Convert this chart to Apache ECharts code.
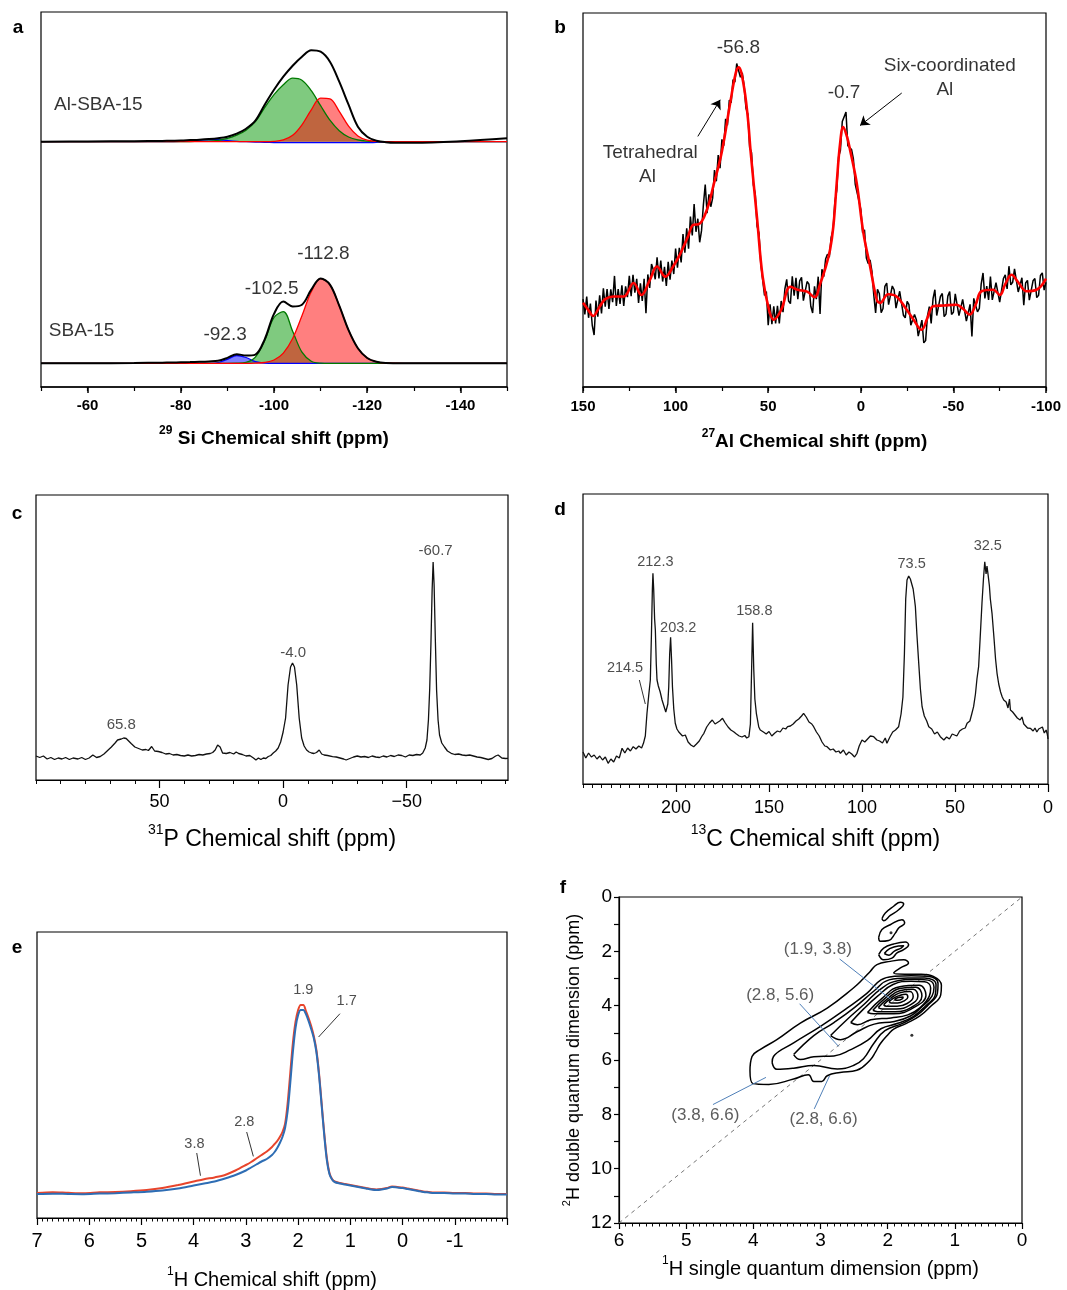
<!DOCTYPE html>
<html>
<head>
<meta charset="utf-8">
<title>NMR spectra a-f</title>
<script src="https://cdn.jsdelivr.net/npm/echarts@6.0.0/dist/echarts.min.js"></script>
<style>
  html, body { margin: 0; padding: 0; background: #fff; }
  #fig { width: 1067px; height: 1290px; }
</style>
</head>
<body>
<div id="fig"></div>
<script>
// ---------- a: 29Si, intensities in px above each baseline ----------
const siX = [-50,-60,-70,-76,-78,-80,-82,-84,-86,-88,-90,-92,-94,-96,-98,-100,-102,-104,-106,-108,-110,-112,-114,-116,-118,-120,-122,-124,-126,-130,-140,-150];
const alBlack = [0,0.2,0.5,0.8,1.0,1.2,1.6,2.0,2.6,3.5,5.0,8,13,21,37,52,65,76,85,91.5,90,80,60,37,15,5,1,-0.5,-1,-1,0.5,3.4];
const alGreen = [0,0,0,0,0,0.1,0.2,0.3,0.5,1.4,3.3,6.5,11.5,20,34,47,57,63.5,61.5,51,36,21.5,11,4.7,1.8,0.6,0.2,0,0,0,0,0];
const alRed   = [0,0,0,0,0,0,0,0,0,0,0,0,0,0,0,0.3,1.8,6.4,16.9,31.9,43.5,42.8,30.4,15.6,5.7,1.5,0.3,0,0,0,0,0];
const alBlue  = [0,0,0,0,0.1,0.3,0.8,1.5,2.2,2.2,1.2,0.4,0,-0.3,-0.6,-0.8,-1,-1,-1,-1,-1,-1,-1,-1,-1,-1,-0.6,-0.3,0,0,0,0];
const sbaBlack = [0,0,0.3,0.6,0.8,1.0,1.2,1.5,1.9,2.5,5.4,9.1,7.7,8.7,24.0,49.4,61.8,56.9,58.6,73.6,84.8,78.7,57.6,33.1,15.0,5.3,1.5,0.3,0.1,0,0,0];
const sbaGreen = [0,0,0,0,0,0,0,0,0,0,0,0.1,0.9,6.1,22.5,45.8,51.6,32.1,11.1,2.1,0.2,0,0,0,0,0,0,0,0,0,0,0];
const sbaRed   = [0,0,0,0,0,0,0,0,0,0,0,0,0,0.2,0.8,3.3,10.2,24.8,47.5,71.5,84.6,78.7,57.6,33.1,15.0,5.3,1.5,0.3,0.1,0,0,0];
const sbaBlue  = [0,0,0,0,0,0,0,0,0,0.7,3.9,7.8,5.8,1.6,0.2,0,0,0,0,0,0,0,0,0,0,0,0,0,0,0,0,0];
const aTopText = ['Al-SBA-15'], aTopX = [-62.3], aTopY = [36.7];
const aBotText = ['SBA-15','-92.3','-102.5','-112.8'];
const aBotX = [-58.7,-89.5,-99.5,-110.6];
const aBotY = [32.3,29,75,110];

// ---------- b: 27Al, raw (1 ppm steps from 150) and fit ----------
const alRawStart = 150, alRawStep = -1;
const alRaw = [
  23.5,19.4,24.2,18.5,22.3,16.5,13.9,23.1,18.8,24.5,
  19.7,26.4,21.5,26.2,20.9,26.1,22.7,29.7,21.7,26.2,
  22.2,27.2,21.7,26.9,24,29.7,24.3,30,25.2,28.9,
  22.5,27.7,23,28.9,19.7,30.1,26.5,32.9,31.3,28.8,
  34.7,29,33.8,28.2,32.1,27,33.5,28.7,33.8,30.2,
  37,31.9,37.2,33.3,40.9,35.9,42.4,37,45.6,40.5,
  48.9,41.5,45,38.7,41.8,48.7,54.1,46.5,51.5,48.2,
  50.5,58,55,62,58.5,66.2,64.5,71.7,70,76.7,
  76,82.2,81.5,86.5,87,82.8,84,80.5,74.5,73,
  64,62.7,54,51.7,43,41.2,33,32.5,24.5,25.5,
  16.5,22.1,16.8,21.6,17,21.7,17,23,20,26.2,
  28.8,23,22.3,29.6,24.4,29.2,23.5,28.4,29.3,23.1,
  22.9,28.2,27.5,21.6,19.8,26.9,23.5,29.5,19.5,31.5,
  29.5,34.2,35.5,34.7,40,42,49.5,52.5,61.5,63.3,
  71,70.8,73.5,64.5,64.5,63.5,61,54.2,52,51.7,
  47.5,41.2,42,34.5,33,34,31,24.6,19.8,26.1,
  25,19.9,21,26.9,27.8,22,22,27,26,21.1,
  21.5,25.6,26,19.2,18.5,22.9,22,16.5,16.5,19.4,
  18,13.6,14,17.9,11.8,12.4,19,21.5,17,23.6,
  26,19.1,19,24.2,25,18.8,19.5,24.3,25.5,19.4,
  20,24.9,24.5,19.1,19,23.4,23.5,17.6,18,22.1,
  13.5,23.7,24,20.1,21,27.5,30.5,23.7,27,23.3,
  29.5,23.3,23.5,27.9,28,22.7,22.5,29,30,26.2,
  32.3,27.3,28,31.6,32,25.4,25,29.2,21.9,27.8,
  28.5,23.2,23,28.4,29,23.9,24.5,29.8,30.5,25.9,
  28];
const alFitX = [150,147,144.5,141,138,133.5,128,122.7,118.5,114,110,105.6,101,97.5,93.5,90.3,87.6,83.1,79.5,75,
  70.5,67.5,66,63.5,61,59.5,56,53,49.5,47,43,38,34,29,25,22,19,16.6,14.8,13,
  11.2,9.5,7.5,5.8,2.2,-1.4,-5,-8.6,-10.4,-14.8,-19.3,-24.7,-28.5,-32.8,-36,-39.1,-45,-51.7,-55,-58.9,
  -62,-65.2,-71.5,-75.1,-78,-81.4,-85,-89.5,-94.9,-100];
const alFitY = [22.5,20.5,19,21.5,23.5,24.2,24.2,27.8,24.6,28.5,32.2,29.5,32.5,35.6,40,43.4,43.5,47.4,54,63,
  76,84,85.5,81.5,72,63,45,29.5,20.5,18,20.6,26.8,26,25.5,24,27.5,32,36.7,43,54.5,
  65,69.5,67,63.4,54.5,41.2,32.3,23.4,22.5,24.8,24.2,20.7,18,15.3,18.5,21.6,21.8,22.0,21,19.4,
  22,25.6,26.0,24.6,27.5,30.0,28,25.6,26.0,29.0];
const bNoteText = ['-56.8','-0.7','Six-coordinated','Al','Tetrahedral','Al'];
const bNoteX = [66.1,9.06,-48.1,-45.4,113.7,115.2];
const bNoteY = [90.6,78.8,85.9,79.5,62.6,56.3];
const bArrows = [[88.0,67.0,75.9,76.8],[-22.1,78.6,0.4,69.9]];

// ---------- c: 31P ----------
const pX = [100,98.5,97,95.5,94,92.5,91,89.5,88,86.5,
  85,83,81.5,80,78.5,77,75.5,74,72.5,71,
  69.5,68,67,65.5,64.5,63.5,62.5,61.5,60,58.5,
  57,55.5,54.5,53.2,52,50.5,49,47.5,46,44.5,
  43,41.5,40,38.5,37,35.5,34,32.5,31,29.5,
  28.5,27.5,26.5,25.5,24.5,23,21.5,20,19,18,
  16.5,15,13.5,12,11,10,9,8,7,6,
  5,4,3,2,1,0,-1,-2,-3,-3.8,
  -4.6,-5.5,-6.5,-7.5,-8.5,-9.5,-10.5,-11.5,-12.5,-13.5,
  -14.6,-15.6,-16.6,-18,-20,-21.5,-23,-24.5,-25.5,-27,
  -28.5,-30,-31.5,-33,-34.5,-36,-37.5,-39,-40.5,-42,
  -43.5,-45,-46.5,-48,-49.5,-51,-52.5,-54,-55.5,-56.5,
  -57.5,-58.2,-58.8,-59.3,-59.8,-60.3,-60.7,-61.1,-61.6,-62.1,
  -62.7,-63.3,-64.2,-65.3,-66.5,-68,-69.5,-71,-72.5,-74,
  -75.5,-77,-78.5,-80,-81.5,-83,-84.5,-86,-87,-88.5,
  -90,-91];
const pY = [24,22.5,24,21,22.5,20.5,22,21,22.5,20.5,
  22,21,22.5,20.5,22,25,22.5,23.5,26,29.5,
  33,37,40,41,42,41.5,39,36.5,33,31.5,
  30,30.5,29.5,33.5,29,28.5,27.5,26,26.5,25,
  25.5,24.5,24,25,24,24.5,25.5,25,26,26.5,
  27.5,30,35,33,27,26.5,27.5,26,28,26.5,
  25.5,24,24.5,22,20,22,20.5,22,21.5,23.5,
  24.5,27,29,32,38,48,62,95,113,117,
  113,95,62,42,34,30,28,27,26.5,27.5,
  30,26,25,24.5,23.3,23,22,21,20,21.5,
  23,24,23,23.5,22.5,24,23,22.5,24,23,
  24.5,23.5,25,24.5,23,25,24.5,25.5,25,27,
  32,40,60,90,135,190,218,195,140,90,
  60,45,37,33,29,26.7,25.5,26,25,24.5,
  25,24,23,22.5,21.5,20.5,21.5,24,25,22,
  21.5,21.7];
const cNoteText = ['65.8','-4.0','-60.7'];
const cNoteX = [65.5,-4.05,-61.7];
const cNoteY = [55,127.3,229];

// ---------- d: 13C ----------
const dX = [250,248.5,247,245.5,244,242.5,241,239.5,238,236.5,
  235,233.5,232,230.5,229,227.5,226,224.5,223,221.5,
  220,218.5,217.5,216.5,215.6,214.7,213.8,213.2,212.7,212.4,
  212,211.5,211.1,210.6,210.2,209.5,208.5,207.5,206.5,205.5,
  205,204.4,203.9,203.4,202.9,202.4,201.9,201.2,200.4,199.5,
  198.5,197.7,196.5,195,193.5,192,190.5,189,187.5,186,
  185,183.5,182,180.5,179,178,176.5,175,173.5,172,
  170.5,169,167.5,166,164.5,163,162,160.8,160,159.4,
  158.8,158.2,157.6,156.8,155.5,154.7,153,151.5,150,148.5,
  147,145.5,144,142.5,141,140,138.5,137,135.5,134,
  132.5,131.4,130,128.5,127,126,124.5,123,121.5,120,
  118.8,117,115.5,114,112.5,111.6,110,108.5,107,105.5,
  104,102.7,101.5,100,98.5,97,95.5,93.7,92,90.5,
  89,87.5,86.6,85,83.5,82,80.3,79,78,77.2,
  76.5,75.8,74.9,74,73.1,72.5,71.8,71.3,70.5,69.5,
  68.6,67.7,66.5,65.2,64.1,62.5,61,59.5,57.9,56,
  54.5,53,51.5,50.7,49,47.5,46,44.5,43.5,42,
  41,40,39,38.2,37.3,36.5,35.5,34.7,34,33.3,
  32.8,32.3,31.5,31,30.1,29,28.2,27.4,26.5,25.5,
  24.6,23.8,22.5,21.5,20.7,20.2,19,18,16.5,15,
  14,13,12,11,10,9.5,8,7,6,5,
  4.1,3,2,1,0.4,0];
const dY = [32,26,31,27,29,25,28,24,27,20.7,
  25,22,28,26,35.7,31,36,33,37.3,35,
  38,36,40.7,48,70.7,88,104,150,195,210.7,
  195,165,154,120,104,98,92,84,78,72,
  70,80,97.3,130,146.7,125,97,75,60.7,55,
  52,50.7,48,49,42,39,37.3,40,43,48,
  50.7,57,61,64,60,60.7,63,65.7,61,57,
  54,52.3,50,48,47,48.5,46,47.3,60,110,
  161.3,115,85,70.7,57,54,52,50,52.5,48,
  50.7,53,52,56,55,57.3,58,60,63,65,
  68,70.7,67,62,60,57.3,52,48,42,38,
  37.3,34,35,32,33,30.7,34,29,32,30,
  27,30.7,38,44,42,45,48,47.3,44,43,
  41,46,40.7,47,52,54,57.3,70,87,130,
  185,204,208,205,204,195,185,177.3,150,120.7,
  95,77.3,68,63,57.3,55,50,52,47.3,44,
  47,45,50,50.7,48,53,55,56,60.7,63,
  70,77.3,90,105,117.3,145,180.7,205,222.3,210,
  218,210.7,198,185,170.7,145,125,110.7,100,92,
  87,84,82,76,85,74,72,70,66,64,
  67,60,62,56,58,55.7,53,56,52,55,
  54,57,51,54,50,45];
const dNoteText = ['212.3','203.2','158.8','73.5','32.5','214.5'];
const dNoteX = [211.1,198.8,157.9,73.3,32.4,227.4];
const dNoteY = [222.3,156.3,173.3,220,238,115.7];
const dLeads = [[219.7,104,216.5,80]];

// ---------- e: 1H, two samples ----------
const hX = [7.0,6.7,6.4,6.1,5.8,5.5,5.2,4.9,4.6,4.3,
  4.0,3.8,3.6,3.4,3.2,3.0,2.9,2.8,2.7,2.6,
  2.5,2.45,2.4,2.35,2.3,2.25,2.2,2.15,2.1,2.05,
  2.0,1.95,1.9,1.85,1.8,1.75,1.7,1.65,1.6,1.55,
  1.5,1.45,1.4,1.35,1.3,1.2,1.1,1.0,0.9,0.8,
  0.7,0.6,0.5,0.4,0.3,0.2,0.1,0.0,-0.1,-0.2,
  -0.3,-0.4,-0.5,-0.6,-0.8,-1.0,-1.2,-1.4,-1.6,-1.8,
  -2.0];
const hRed = [25,25.8,25.2,24.8,25.7,26,26.8,28,30,33,
  36.5,38.8,40.6,43,47.5,53,56,59.5,63,66.5,
  71,74,77,81,86,94,115,145,175,196,
  208,213,213,207,200,192,182,168,145,115,
  85,60,45,39,36.5,35,34,33,32,31,
  30,29,28.5,29,30,31.5,31,30.5,29.5,28.5,
  27.5,26.5,26,25.5,25.5,25,25,24.5,24.5,24,
  24];
const hBlue = [24,24.3,24,23.8,24.4,24.8,25.5,26.3,27.5,29.5,
  32.5,34.5,36.5,39.5,43,47.5,50.5,53.5,56.5,59,
  63,66,70,75,81,90,107,135,166,190,
  203,208,208,204,197,189,180,166,143,113,
  83,58,44,38.5,36,34.5,33.5,32.5,31.5,30.5,
  29.5,28.5,28,28.5,29.5,31,30.5,30,29,28,
  27,26,25.5,25,25,24.5,24.5,24,24,23.5,
  23.5];
const eNoteText = ['1.9','1.7','2.8','3.8'];
const eNoteX = [1.90,1.07,3.03,3.985];
const eNoteY = [228.3,216.6,95.6,74];
const eLeads = [[1.199,204.3,1.608,181],[2.985,86,2.857,61.6],[3.941,65,3.870,42.3]];

// ---------- f: 2D DQ-SQ contours (x: SQ ppm, y: DQ ppm) ----------
const fE1 = [[2.085,0.80],[2.035,0.59],[1.911,0.34],[1.812,0.19],[1.762,0.26],[1.836,0.47],[1.961,0.68],[2.06,0.87],[2.085,0.80]];
const fE2 = [[2.134,1.49],[2.085,1.20],[1.961,1.02],[1.787,0.84],[1.747,0.96],[1.836,1.14],[1.886,1.33],[1.985,1.60],[2.109,1.63],[2.134,1.49]];
const fE3 = [[2.134,2.12],[2.06,1.88],[1.911,1.73],[1.737,1.66],[1.688,1.76],[1.762,1.94],[1.861,2.06],[1.936,2.25],[2.06,2.31],[2.134,2.12]];
const fE3in = [[2.05,2.08],[1.97,1.90],[1.84,1.80],[1.76,1.79],[1.80,1.88],[1.90,1.99],[1.98,2.14],[2.05,2.08]];
const fC1 = [[4.05,6.40],[4.02,5.87],[3.90,5.62],[3.65,5.25],[3.30,4.64],[2.90,4.09],[2.51,3.35],[2.36,3.00],[2.26,2.74],[2.16,2.49],[1.96,2.37],[1.76,2.31],[1.69,2.43],[1.81,2.61],[1.91,2.80],[1.75,2.84],[1.50,2.84],[1.32,2.92],[1.20,3.25],[1.21,3.60],[1.37,4.05],[1.52,4.38],[1.72,4.65],[1.91,4.86],[1.99,5.05],[2.11,5.40],[2.18,5.70],[2.26,6.00],[2.46,6.38],[2.71,6.46],[2.90,6.58],[2.98,6.79],[3.10,6.79],[3.18,6.54],[3.40,6.70],[3.77,6.90],[4.005,6.87],[4.05,6.40]];
const fC2 = [[3.72,6.10],[3.70,5.87],[3.40,5.37],[3.00,4.76],[2.61,4.10],[2.31,3.55],[2.10,3.05],[1.90,2.92],[1.65,2.90],[1.40,2.92],[1.25,3.18],[1.26,3.55],[1.40,3.98],[1.56,4.35],[1.78,4.65],[2.04,4.92],[2.21,5.40],[2.36,5.95],[2.51,6.20],[2.75,6.33],[3.10,6.20],[3.40,6.30],[3.65,6.34],[3.72,6.10]];
const fC3 = [[3.40,5.80],[3.10,5.10],[2.80,4.62],[2.50,4.08],[2.20,3.45],[1.98,3.05],[1.70,2.98],[1.45,2.98],[1.28,3.22],[1.29,3.58],[1.44,4.02],[1.62,4.40],[1.85,4.65],[2.10,4.85],[2.30,5.28],[2.55,5.62],[2.80,5.85],[3.10,5.88],[3.30,5.98],[3.40,5.80]];
const fC4 = [[2.85,5.10],[2.60,4.50],[2.35,3.95],[2.10,3.38],[1.85,3.08],[1.60,3.03],[1.40,3.06],[1.31,3.32],[1.34,3.65],[1.50,4.06],[1.66,4.38],[1.90,4.58],[2.20,4.68],[2.45,4.95],[2.70,5.25],[2.85,5.10]];
const fC5 = [[2.55,4.62],[2.35,4.10],[2.15,3.65],[1.92,3.22],[1.65,3.10],[1.45,3.12],[1.36,3.35],[1.38,3.65],[1.52,4.08],[1.70,4.34],[1.95,4.45],[2.25,4.52],[2.45,4.70],[2.55,4.62]];
const fK5 = [[2.30,4.25],[2.08,3.72],[1.82,3.30],[1.53,3.25],[1.43,3.62],[1.62,4.08],[1.91,4.30],[2.21,4.30],[2.30,4.25]];
const fK4 = [[2.22,4.17],[2.04,3.73],[1.82,3.37],[1.58,3.32],[1.49,3.64],[1.64,4.05],[1.89,4.22],[2.15,4.22],[2.22,4.17]];
const fK3 = [[2.14,4.07],[1.99,3.72],[1.82,3.45],[1.62,3.40],[1.55,3.65],[1.67,3.98],[1.87,4.12],[2.08,4.12],[2.14,4.07]];
const fK2 = [[2.06,3.97],[1.95,3.72],[1.82,3.53],[1.67,3.48],[1.62,3.67],[1.71,3.92],[1.86,4.02],[2.02,4.02],[2.06,3.97]];
const fK1 = [[1.98,3.85],[1.91,3.72],[1.83,3.63],[1.73,3.58],[1.70,3.69],[1.76,3.83],[1.85,3.90],[1.95,3.90],[1.98,3.85]];
const fK0 = [[1.90,3.78],[1.84,3.70],[1.77,3.68],[1.78,3.74],[1.85,3.80],[1.90,3.78]];
const fDots = [[1.64,5.09],[1.95,1.32]];
const fDiagX = [6,0], fDiagY = [12,0];
const fNoteText = ['(1.9, 3.8)','(2.8, 5.6)','(3.8, 6.6)','(2.8, 6.6)'];
const fNoteX = [3.04,3.60,4.715,2.954];
const fNoteY = [1.94,3.63,8.04,8.17];
const fLeads = [[2.716,2.28,1.946,3.78],[3.311,3.93,2.731,5.50],[4.601,7.64,3.812,6.64],[3.093,7.80,2.865,6.58]];

// ---------- helpers ----------
const FONT = '"Liberation Sans", Arial, sans-serif';

function range(a, b, step) {
  const out = [];
  const n = Math.round((b - a) / step);
  for (let i = 0; i <= n; i++) out.push(+(a + i * step).toFixed(4));
  return out;
}
function pairs(xs, ys) { return xs.map((x, i) => [x, ys[i]]); }

function axisName(sup, text, size, bold) {
  const w = bold ? 'bold' : 'normal';
  return {
    name: '{s|' + sup + '}{t|' + text + '}',
    nameTextStyle: {
      rich: {
        s: { fontSize: Math.round(size * 0.62), fontWeight: w, fontFamily: FONT, color: '#000', verticalAlign: 'top', lineHeight: Math.round(size * 0.7) },
        t: { fontSize: size, fontWeight: w, fontFamily: FONT, color: '#000', verticalAlign: 'bottom', lineHeight: Math.round(size * 1.2) }
      }
    }
  };
}

function xPair(o) {
  const main = Object.assign({
    type: 'value', gridIndex: o.grid, min: o.min, max: o.max, inverse: true, position: 'bottom',
    axisLine: { show: true, onZero: false, lineStyle: { color: '#000', width: o.lw } },
    axisTick: { show: true, inside: false, length: o.majLen, customValues: o.major, lineStyle: { color: '#000', width: o.lw } },
    axisLabel: { show: true, customValues: o.labels, margin: o.margin, color: '#000', fontFamily: FONT,
      fontSize: o.fs, fontWeight: o.fw, formatter: o.fmt || (v => String(v)) },
    splitLine: { show: false },
    nameLocation: 'middle', nameGap: o.gap
  }, axisName(o.sup, o.title, o.ts, o.fw === 'bold'));
  const minor = {
    type: 'value', gridIndex: o.grid, min: o.min, max: o.max, inverse: true, position: 'bottom',
    axisLine: { show: false, onZero: false },
    axisTick: { show: true, length: o.minLen, customValues: o.minor, lineStyle: { color: '#000', width: o.lw * 0.8 } },
    axisLabel: { show: false }, splitLine: { show: false }
  };
  return [main, minor];
}

function line(data, xi, yi, color, width, smooth) {
  return { type: 'line', xAxisIndex: xi, yAxisIndex: yi, data: data, symbol: 'none', smooth: smooth || false,
    lineStyle: { color: color, width: width }, itemStyle: { color: color }, silent: true };
}
function area(xs, ys, xi, yi, color, fill) {
  const s = line(pairs(xs, ys), xi, yi, color, 1.3, 0.35);
  s.areaStyle = { color: fill, opacity: 1 };
  return s;
}
function notes(xi, yi, texts, xs, ys, fs, color, segs, segColor, arrow) {
  const s = {
    type: 'scatter', xAxisIndex: xi, yAxisIndex: yi, symbolSize: 1, silent: true, z: 10,
    itemStyle: { color: 'rgba(0,0,0,0)' },
    data: texts.map((t, i) => ({ name: t, value: [xs[i], ys[i]] })),
    label: { show: true, position: 'inside', formatter: '{b}', fontSize: fs, fontFamily: FONT, color: color,
      align: 'center', verticalAlign: 'middle' }
  };
  if (segs) {
    s.markLine = {
      silent: true, symbol: arrow ? ['none', 'arrow'] : ['none', 'none'], symbolSize: 9,
      label: { show: false }, lineStyle: { color: segColor, width: 1, type: 'solid' },
      data: segs.map(g => [{ coord: [g[0], g[1]] }, { coord: [g[2], g[3]] }])
    };
  }
  return s;
}

const gridBase = { show: true, borderColor: '#000', borderWidth: 1.2, containLabel: false, outerBoundsMode: 'none' };
const grids = [
  Object.assign({ left: 41, top: 12, width: 466, height: 375 }, gridBase),
  Object.assign({ left: 583, top: 13, width: 463, height: 374 }, gridBase),
  Object.assign({ left: 36, top: 495, width: 472, height: 285 }, gridBase),
  Object.assign({ left: 583, top: 494, width: 465, height: 290 }, gridBase),
  Object.assign({ left: 37, top: 932, width: 470, height: 286 }, gridBase),
  Object.assign({ left: 619, top: 897, width: 403, height: 326 }, gridBase)
];

const xAxes = [].concat(
  xPair({ grid: 0, min: -150, max: -50, major: [-60,-80,-100,-120,-140], labels: [-60,-80,-100,-120,-140],
    minor: range(-150, -50, 10), majLen: 6, minLen: 4, lw: 1.5, margin: 11, fs: 15, fw: 'bold',
    sup: '29', title: ' Si Chemical shift (ppm)', ts: 19, gap: 38 }),
  xPair({ grid: 1, min: -100, max: 150, major: [150,100,50,0,-50,-100], labels: [150,100,50,0,-50,-100],
    minor: range(-100, 150, 25), majLen: 6, minLen: 4, lw: 1.5, margin: 12, fs: 15, fw: 'bold',
    sup: '27', title: 'Al Chemical shift (ppm)', ts: 19, gap: 41 }),
  xPair({ grid: 2, min: -91, max: 100, major: [50,0,-50], labels: [50,0,-50],
    minor: range(-90, 100, 10), majLen: 8, minLen: 4, lw: 1.2, margin: 13, fs: 18, fw: 'normal',
    fmt: v => (v < 0 ? '\u2212' + Math.abs(v) : String(v)),
    sup: '31', title: 'P Chemical shift (ppm)', ts: 23, gap: 43 }),
  xPair({ grid: 3, min: 0, max: 250, major: [200,150,100,50,0], labels: [200,150,100,50,0],
    minor: range(0, 250, 5), majLen: 8, minLen: 4, lw: 1.2, margin: 15, fs: 18, fw: 'normal',
    sup: '13', title: 'C Chemical shift (ppm)', ts: 23, gap: 39 }),
  xPair({ grid: 4, min: -2, max: 7, major: range(-2, 7, 1), labels: [7,6,5,4,3,2,1,0,-1],
    minor: range(-2, 7, 0.1), majLen: 7, minLen: 3.5, lw: 1.2, margin: 13, fs: 20, fw: 'normal',
    sup: '1', title: 'H Chemical shift (ppm)', ts: 20, gap: 48 }),
  xPair({ grid: 5, min: 0, max: 6, major: range(0, 6, 1), labels: range(0, 6, 1),
    minor: range(0, 6, 0.1), majLen: 6, minLen: 3.5, lw: 1.2, margin: 8, fs: 19, fw: 'normal',
    sup: '1', title: 'H single quantum dimension (ppm)', ts: 20, gap: 32 })
);

const yAxes = [
  { type: 'value', gridIndex: 0, min: -245.3, max: 129.7, show: false },
  { type: 'value', gridIndex: 0, min: -23.7, max: 351.3, show: false },
  { type: 'value', gridIndex: 1, min: 0, max: 100, show: false },
  { type: 'value', gridIndex: 2, min: 0, max: 285, show: false },
  { type: 'value', gridIndex: 3, min: 0, max: 290, show: false },
  { type: 'value', gridIndex: 4, min: 0, max: 286, show: false },
  Object.assign({
    type: 'value', gridIndex: 5, min: 0, max: 12, inverse: true, position: 'left',
    axisLine: { show: true, onZero: false, lineStyle: { color: '#000', width: 1.2 } },
    axisTick: { show: true, length: 5, customValues: range(0, 12, 1), lineStyle: { color: '#000', width: 1.2 } },
    axisLabel: { show: true, customValues: [0,2,4,6,8,10,12], margin: 7, color: '#000', fontFamily: FONT, fontSize: 19, formatter: v => String(v) },
    splitLine: { show: false },
    nameLocation: 'middle', nameGap: 36, nameRotate: 90
  }, axisName('2', 'H double quantum dimension (ppm)', 18, false))
];

const series = [];
// a (top: Al-SBA-15 on y0, bottom: SBA-15 on y1)
series.push(area(siX, alBlue, 0, 0, '#0000ff', 'rgba(0,0,255,0.5)'));
series.push(area(siX, alGreen, 0, 0, '#007a00', 'rgba(0,150,0,0.5)'));
series.push(area(siX, alRed, 0, 0, '#ff0000', 'rgba(255,0,0,0.5)'));
series.push(line(pairs(siX, alBlack), 0, 0, '#000', 2, 0.35));
series.push(area(siX, sbaBlue, 0, 1, '#0000ff', 'rgba(0,0,255,0.5)'));
series.push(area(siX, sbaGreen, 0, 1, '#007a00', 'rgba(0,150,0,0.5)'));
series.push(area(siX, sbaRed, 0, 1, '#ff0000', 'rgba(255,0,0,0.5)'));
series.push(line(pairs(siX, sbaBlack), 0, 1, '#000', 2, 0.35));
series.push(notes(0, 0, aTopText, aTopX, aTopY, 19, '#000'));
series.push(notes(0, 1, aBotText, aBotX, aBotY, 19, '#000'));
// b
const alRawX = alRaw.map((v, i) => alRawStart + i * alRawStep);
series.push(line(pairs(alRawX, alRaw), 2, 2, '#000', 1.5, false));
series.push(line(pairs(alFitX, alFitY), 2, 2, '#ff0000', 2.6, 0.4));
series.push(notes(2, 2, bNoteText, bNoteX, bNoteY, 19, '#000', bArrows, '#000', true));
// c
series.push(line(pairs(pX, pY), 4, 3, '#111', 1.3, false));
series.push(notes(4, 3, cNoteText, cNoteX, cNoteY, 15, '#222'));
// d
series.push(line(pairs(dX, dY), 6, 4, '#111', 1.3, false));
series.push(notes(6, 4, dNoteText, dNoteX, dNoteY, 14.5, '#222', dLeads, '#333'));
// e
series.push(line(pairs(hX, hRed), 8, 5, '#e8452c', 2, 0.3));
series.push(line(pairs(hX, hBlue), 8, 5, '#2e6db4', 2, 0.3));
series.push(notes(8, 5, eNoteText, eNoteX, eNoteY, 14.5, '#222', eLeads, '#333'));
// f
series.push(Object.assign(line(pairs(fDiagX, fDiagY), 10, 6, '#777', 1, false), { lineStyle: { color: '#777', width: 1, type: [4, 4] } }));
[fE1, fE2, fE3, fE3in, fC1, fC2, fC3, fC4, fC5, fK5, fK4, fK3, fK2, fK1, fK0].forEach(c => {
  series.push(line(c, 10, 6, '#000', 1.5, 0.45));
});
series.push({ type: 'scatter', xAxisIndex: 10, yAxisIndex: 6, data: fDots, symbolSize: 3, itemStyle: { color: '#000' }, silent: true });
series.push(notes(10, 6, fNoteText, fNoteX, fNoteY, 17, '#333', fLeads, '#4f7fb8'));

const panelLetters = [['a', 18, 28], ['b', 560, 28], ['c', 17, 514], ['d', 560, 510], ['e', 17, 948], ['f', 563, 888]];

const chart = echarts.init(document.getElementById('fig'), null, { renderer: 'canvas' });
chart.setOption({
  animation: false,
  backgroundColor: '#fff',
  grid: grids,
  xAxis: xAxes,
  yAxis: yAxes,
  series: series,
  graphic: panelLetters.map(p => ({
    type: 'text', x: p[1], y: p[2], silent: true,
    style: { text: p[0], fontSize: 19, fontWeight: 'bold', fontFamily: FONT, fill: '#000', align: 'center', verticalAlign: 'middle' }
  }))
});
</script>
</body>
</html>
